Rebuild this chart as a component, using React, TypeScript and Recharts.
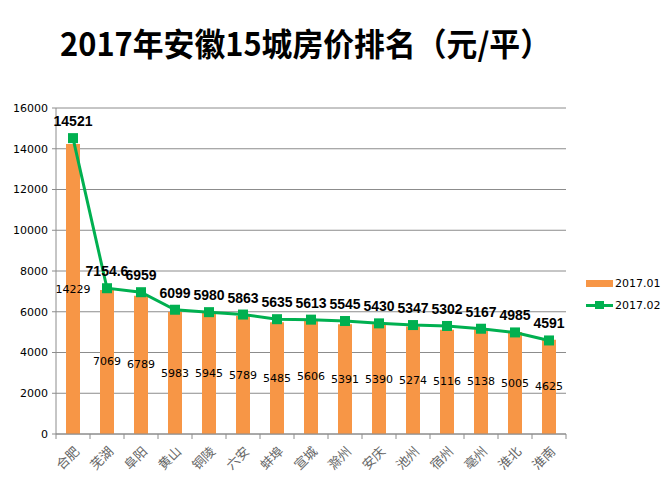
import React from "react";
import { ComposedChart, Bar, Line, XAxis, YAxis, CartesianGrid, LabelList } from "recharts";

const cities = ["合肥", "芜湖", "阜阳", "黄山", "铜陵", "六安", "蚌埠", "宣城", "滁州", "安庆", "池州", "宿州", "亳州", "淮北", "淮南"];
const jan = [14229, 7069, 6789, 5983, 5945, 5789, 5485, 5606, 5391, 5390, 5274, 5116, 5138, 5005, 4625];
const feb = [14521, 7154.6, 6959, 6099, 5980, 5863, 5635, 5613, 5545, 5430, 5347, 5302, 5167, 4985, 4591];
const yTicks = [0, 2000, 4000, 6000, 8000, 10000, 12000, 14000, 16000];
const seriesNames = ["2017.01", "2017.02"];
const title = "2017年安徽15城房价排名（元/平）";

const ORANGE = "#F79646";
const GREEN = "#00B050";
const GRID = "#8c8c8c";

const data = cities.map((c, i) => ({ city: c, jan: jan[i], feb: feb[i] }));

const XTick = (props: any) => {
  const { x, y, payload, index } = props;
  const half = 17;
  return (
    <g>
      <line x1={x - half} x2={x - half} y1={y - 5} y2={y} stroke={GRID} />
      {index === cities.length - 1 && <line x1={x + half} x2={x + half} y1={y - 5} y2={y} stroke={GRID} />}
      <g transform={`translate(${x + 4},${y + 10})`}>
        <text textAnchor="end" transform="rotate(-45)" dy="0.35em" fontSize={13} fill="#666" fontFamily="'Noto Sans CJK SC', sans-serif">
          {payload.value}
        </text>
      </g>
    </g>
  );
};

const Square = (props: any) => {
  const { cx, cy } = props;
  if (cx == null || cy == null) return null;
  return <rect x={cx - 5} y={cy - 5} width={10} height={10} fill={GREEN} />;
};

const BarLabel = (props: any) => {
  const { x, y, width, height, value } = props;
  return (
    <text x={x + width / 2} y={y + height / 2} textAnchor="middle" dominantBaseline="central" fontSize={11} fontFamily="'DejaVu Sans', sans-serif" fill="#000">
      {value}
    </text>
  );
};

const LineLabel = (props: any) => {
  const { x, y, value } = props;
  return (
    <text x={x} y={y - 12} textAnchor="middle" fontSize={14} fontWeight="bold" fontFamily="'Liberation Sans', Arial, sans-serif" fill="#000">
      {value}
    </text>
  );
};

export default function App() {
  return (
    <div style={{ position: "absolute", left: 0, top: 0, width: 667, height: 484, background: "#fff" }}>
      <svg style={{ position: "absolute", left: 0, top: 0 }} width={667} height={70}>
        <text x={60} y={56} fontSize={32} fontWeight="bold" fontFamily="'Noto Sans CJK SC', sans-serif" fill="#000" textLength={491} lengthAdjust="spacingAndGlyphs">
          {title}
        </text>
      </svg>
      <ComposedChart width={667} height={484} data={data} margin={{ top: 108, right: 101, left: 0, bottom: 0 }}>
        <CartesianGrid vertical={false} stroke={GRID} strokeWidth={1} />
        <XAxis dataKey="city" height={50} interval={0} tickLine={false} tickSize={5} tickMargin={0} stroke={GRID} tick={<XTick />} />
        <YAxis width={56} domain={[0, 16000]} ticks={yTicks} tickSize={4} tickMargin={4} stroke={GRID} tick={{ fontSize: 11, fill: "#000", fontFamily: "'DejaVu Sans', sans-serif" }} />
        <Bar dataKey="jan" fill={ORANGE} barSize={14} isAnimationActive={false}>
          <LabelList dataKey="jan" content={<BarLabel />} />
        </Bar>
        <Line dataKey="feb" stroke={GREEN} strokeWidth={3} dot={<Square />} activeDot={false} isAnimationActive={false}>
          <LabelList dataKey="feb" content={<LineLabel />} />
        </Line>
      </ComposedChart>
      <div style={{ position: "absolute", left: 586, top: 274, fontFamily: "'DejaVu Sans', sans-serif", fontSize: 11, color: "#000" }}>
        <div style={{ display: "flex", alignItems: "center", height: 18 }}>
          <div style={{ width: 27, height: 7, background: ORANGE, marginRight: 2 }} />
          <span>{seriesNames[0]}</span>
        </div>
        <div style={{ display: "flex", alignItems: "center", height: 18, marginTop: 4 }}>
          <div style={{ position: "relative", width: 27, height: 8, marginRight: 2 }}>
            <div style={{ position: "absolute", left: 0, top: 3, width: 27, height: 3, background: GREEN }} />
            <div style={{ position: "absolute", left: 9, top: 0, width: 9, height: 8, background: GREEN }} />
          </div>
          <span>{seriesNames[1]}</span>
        </div>
      </div>
    </div>
  );
}
